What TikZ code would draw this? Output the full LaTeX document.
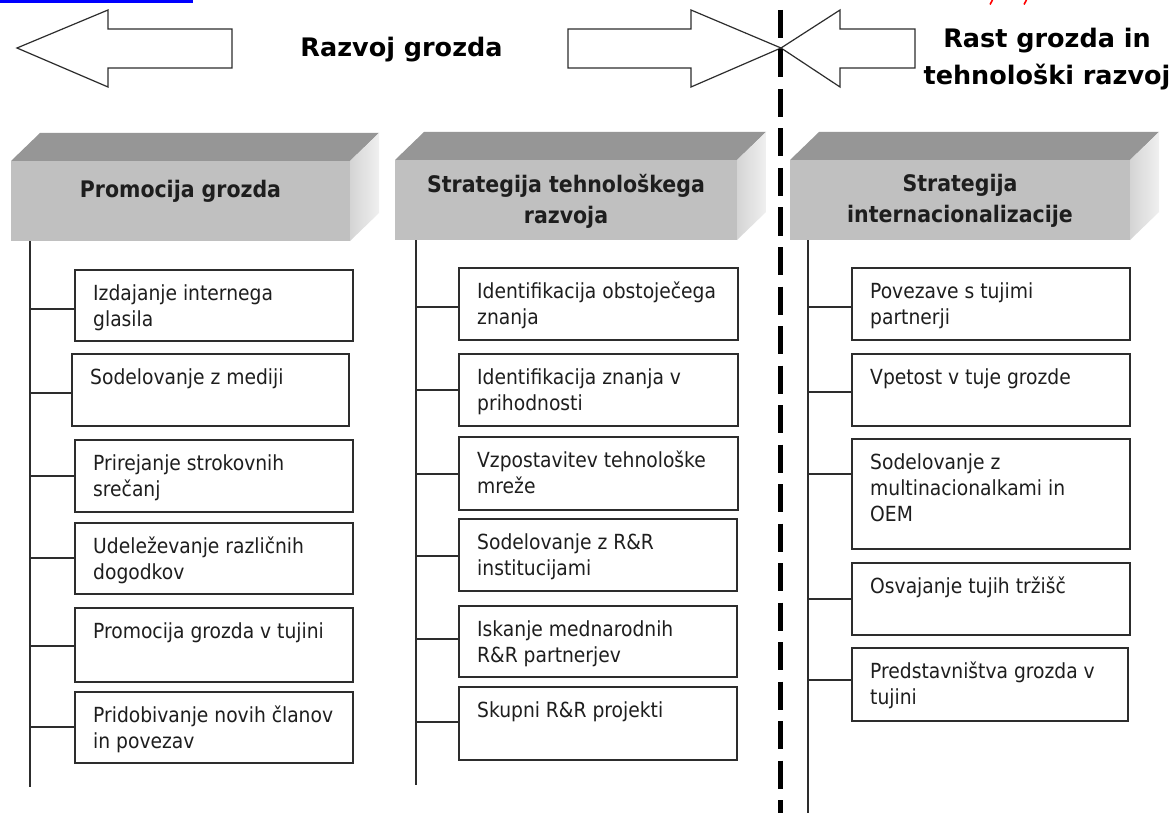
\documentclass[tikz,border=0pt]{standalone}
\usepackage{fontspec}
\setmainfont{DejaVu Sans Condensed}
\newfontfamily\titlefont{DejaVu Sans}
\usetikzlibrary{calc}

\definecolor{hdrtop}{RGB}{150,150,150}
\definecolor{hdrfront}{RGB}{192,192,192}
\definecolor{hdrsideA}{RGB}{212,212,212}
\definecolor{hdrsideB}{RGB}{240,240,240}
\definecolor{inkline}{RGB}{45,45,45}
\definecolor{inktext}{RGB}{30,30,30}
\definecolor{linkblue}{RGB}{0,0,255}

\tikzset{
  hfront/.style={fill=hdrfront, draw=none, inner sep=0pt, outer sep=0pt},
  htitle/.style={font=\bfseries\fontsize{22.8}{31}\selectfont, align=center, inner sep=0pt, text=inktext},
  subbox/.style={draw=inkline, line width=1.4pt, fill=white, inner sep=0pt, outer sep=0pt},
  subtext/.style={font=\fontsize{20.8}{26}\selectfont, align=left, inner sep=0pt, text=inktext},
  trunk/.style={draw=inkline, line width=1.4pt},
  link/.style={draw=inkline, line width=1.4pt},
  bigarrow/.style={draw=inkline, line width=1.2pt, fill=white, line join=miter},
  toptitle/.style={font=\titlefont\bfseries\fontsize{25.5}{37}\selectfont, align=center, inner sep=0pt, text=black},
  divider/.style={draw=black, line width=5pt, dash pattern=on 28pt off 11.5pt},
}

% 3-D header block: front face node plus top and side faces
\newcommand\hdr[5]{%
  \node[hfront, minimum width=#4, minimum height=#5, anchor=north west] (#1) at (#2,#3) {};
  \fill[hdrtop] (#1.north west) -- ++(29,-28) -- ($(#1.north east)+(29,-28)$) -- (#1.north east) -- cycle;
  \shade[left color=hdrsideA, right color=hdrsideB] (#1.north east) -- ++(29,-28) -- ($(#1.south east)+(29,-28)$) -- (#1.south east) -- cycle;
}
% activity box: frame node and top-aligned text node
\newcommand\actbox[6]{%
  \node[subbox, minimum width=#4, minimum height=#5, anchor=north west] (#1) at (#2,#3) {};
  \node[subtext, anchor=north west] (#1-txt) at ($(#1.north west)+(18,14)$) {\rule{0pt}{16pt}#6};
}
% branch from a trunk to a box at a given height
\newcommand\linkto[3]{\draw[link] (#1 |- 0,#3) -- (#2.west |- 0,#3);}

\begin{document}
\begin{tikzpicture}[x=1pt, y=-1pt]
\fill[white] (0,0) rectangle (1172,813);
\useasboundingbox (0,0) rectangle (1172,813);

% fragments along the top edge
\fill[linkblue] (0,0) rectangle (193,3.5);
\draw[red, line width=1.6pt] (990,4.5) -- (992.5,0);
\draw[red, line width=1.6pt] (1024,4.5) -- (1026.5,0);

% block arrows
\draw[bigarrow] (17,48) -- (108,10) -- (108,29) -- (232,29) -- (232,68) -- (108,68) -- (108,87) -- cycle;
\draw[bigarrow] (568,29) -- (691,29) -- (691,10) -- (781,48) -- (691,87) -- (691,68) -- (568,68) -- cycle;
\draw[bigarrow] (781,48) -- (840,10) -- (840,29) -- (915,29) -- (915,68) -- (840,68) -- (840,87) -- cycle;

\node[toptitle, anchor=base] (ttl-left) at (401.5,57) {Razvoj grozda};
\node[toptitle, anchor=north] (ttl-right) at (1047,28) {\rule{0pt}{19pt}Rast grozda in\\tehnološki razvoj};

% dashed divider
\coordinate (dv-top) at (780,10);
\coordinate (dv-bot) at (780,813);
\draw[divider] (dv-top) -- (dv-bot);

% header blocks
\hdr{h1}{11}{161}{339}{80}
\hdr{h2}{395}{160}{342}{80}
\hdr{h3}{790}{160}{340}{80}
\node[htitle, anchor=base] (h1-txt) at (180.5,197) {Promocija grozda};
\node[htitle, anchor=north] (h2-txt) at (566,174) {\rule{0pt}{17pt}Strategija tehnološkega\\razvoja};
\node[htitle, anchor=north] (h3-txt) at (960,174) {\rule{0pt}{17pt}Strategija\\internacionalizacije};

% trunks
\coordinate (t1) at (30,241);  \coordinate (t1-end) at (30,787);
\coordinate (t2) at (416,240); \coordinate (t2-end) at (416,785);
\coordinate (t3) at (808,240); \coordinate (t3-end) at (808,813);
\draw[trunk] (t1) -- (t1-end);
\draw[trunk] (t2) -- (t2-end);
\draw[trunk] (t3) -- (t3-end);

% column 1
\actbox{a1}{75}{270}{278}{71}{Izdajanje internega\\glasila}
\actbox{a2}{72}{354}{277}{72}{Sodelovanje z mediji}
\actbox{a3}{75}{440}{278}{72}{Prirejanje strokovnih\\srečanj}
\actbox{a4}{75}{523}{278}{71}{Udeleževanje različnih\\dogodkov}
\actbox{a5}{75}{608}{278}{74}{Promocija grozda v tujini}
\actbox{a6}{75}{692}{278}{71}{Pridobivanje novih članov\\in povezav}
\linkto{t1}{a1}{309}
\linkto{t1}{a2}{393}
\linkto{t1}{a3}{476}
\linkto{t1}{a4}{558}
\linkto{t1}{a5}{646}
\linkto{t1}{a6}{727}

% column 2
\actbox{b1}{459}{268}{279}{72}{Identifikacija obstoječega\\znanja}
\actbox{b2}{459}{354}{279}{72}{Identifikacija znanja v\\prihodnosti}
\actbox{b3}{459}{437}{279}{73}{Vzpostavitev tehnološke\\mreže}
\actbox{b4}{459}{519}{278}{72}{Sodelovanje z R\&R\\institucijami}
\actbox{b5}{459}{606}{278}{71}{Iskanje mednarodnih\\R\&R partnerjev}
\actbox{b6}{459}{687}{278}{73}{Skupni R\&R projekti}
\linkto{t2}{b1}{307}
\linkto{t2}{b2}{390}
\linkto{t2}{b3}{474}
\linkto{t2}{b4}{556}
\linkto{t2}{b5}{639}
\linkto{t2}{b6}{722}

% column 3
\actbox{c1}{852}{268}{278}{72}{Povezave s tujimi\\partnerji}
\actbox{c2}{852}{354}{278}{72}{Vpetost v tuje grozde}
\actbox{c3}{852}{439}{278}{110}{Sodelovanje z\\multinacionalkami in\\OEM}
\actbox{c4}{852}{563}{278}{72}{Osvajanje tujih tržišč}
\actbox{c5}{852}{648}{276}{73}{Predstavništva grozda v\\tujini}
\linkto{t3}{c1}{307}
\linkto{t3}{c2}{392}
\linkto{t3}{c3}{474}
\linkto{t3}{c4}{599}
\linkto{t3}{c5}{680}
\end{tikzpicture}
\end{document}
